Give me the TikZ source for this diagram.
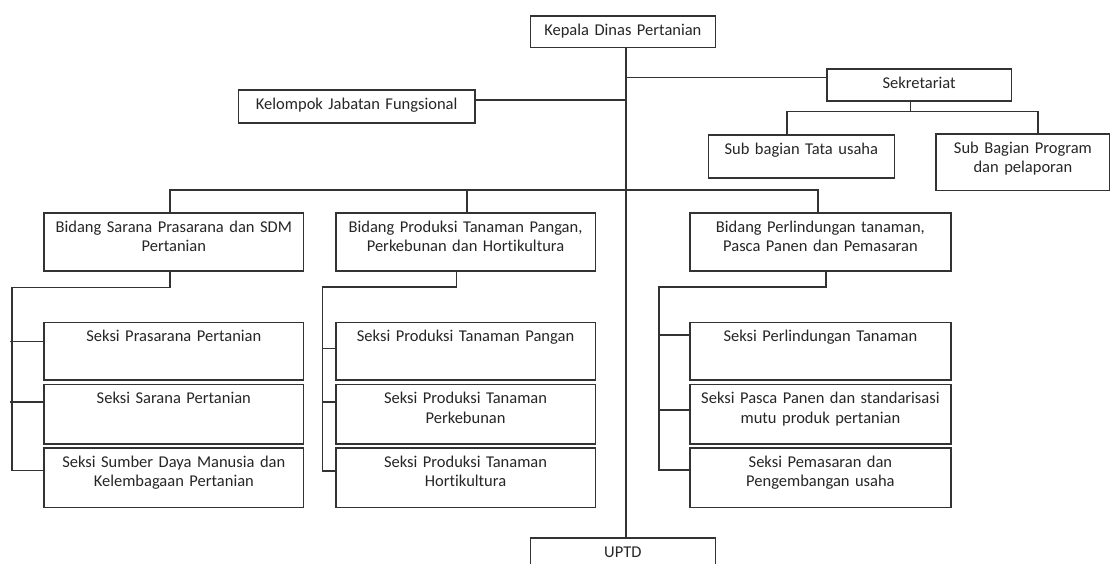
\documentclass[tikz,border=0pt]{standalone}
\usepackage{fontspec}
\setmainfont{Carlito}[Ligatures=NoCommon]
\tikzset{
  x=1pt, y=-1pt,
  box/.style={draw=black!80, line width=1.5pt, rectangle, inner sep=0pt, anchor=north west},
  lbl/.style={anchor=base, yshift=-20pt, align=center, inner sep=0pt,
    font=\fontsize{16.5}{19.5}\selectfont, text=black!85},
  conn/.style={draw=black!80, line width=1.5pt},
}
% name, x, y, width, height, text
\newcommand\orgbox[6]{\node[box, minimum width=#4pt, minimum height=#5pt,
  label={[lbl, text width=#4pt]north:{#6}}] (#1) at (#2,#3) {};}
\begin{document}
\begin{tikzpicture}
\useasboundingbox[fill=white] (0,0) rectangle (1110,563);
% boxes
\orgbox{kep}{529.6}{15}{185}{31.7}{Kepala Dinas Pertanian}
\orgbox{kel}{237.9}{89.3}{236.1}{32.7}{Kelompok Jabatan Fungsional}
\orgbox{sek}{826}{68.3}{184.7}{31.7}{Sekretariat}
\orgbox{sub1}{707.5}{134}{186.1}{43}{Sub bagian Tata usaha}
\orgbox{sub2}{935}{133}{174.3}{56.7}{Sub Bagian Program\\dan pelaporan}
\orgbox{b1}{43.2}{212.3}{259.7}{58}{Bidang Sarana Prasarana dan SDM\\Pertanian}
\orgbox{b2}{335}{212.3}{259.6}{58}{Bidang Produksi Tanaman Pangan,\\Perkebunan dan Hortikultura}
\orgbox{b3}{689.3}{212.3}{260.7}{58}{Bidang Perlindungan tanaman,\\Pasca Panen dan Pemasaran}
\orgbox{sA1}{43.2}{321.7}{259.7}{57.6}{Seksi Prasarana Pertanian}
\orgbox{sA2}{43.2}{383.7}{259.7}{59.3}{Seksi Sarana Pertanian}
\orgbox{sA3}{43.2}{447.3}{259.7}{59.4}{Seksi Sumber Daya Manusia dan\\Kelembagaan Pertanian}
\orgbox{sB1}{335}{321.7}{259.6}{57.6}{Seksi Produksi Tanaman Pangan}
\orgbox{sB2}{335}{383.7}{259.6}{59.3}{Seksi Produksi Tanaman\\Perkebunan}
\orgbox{sB3}{335}{447.3}{259.6}{59.4}{Seksi Produksi Tanaman\\Hortikultura}
\orgbox{sC1}{689.3}{321.7}{260.7}{57.6}{Seksi Perlindungan Tanaman}
\orgbox{sC2}{689.3}{383.7}{260.7}{59.3}{Seksi Pasca Panen dan standarisasi\\mutu produk pertanian}
\orgbox{sC3}{689.3}{447.3}{260.7}{59.4}{Seksi Pemasaran dan\\Pengembangan usaha}
\orgbox{uptd}{529.6}{537.3}{185}{45}{UPTD}
% junction coordinates
\coordinate (tx) at (626,0);
\coordinate (jS) at (626,77.3);
\coordinate (jK) at (626,100);
\coordinate (sx) at (910.4,111.7);
\coordinate (s1) at (786.8,111.7);
\coordinate (s2) at (1037.9,111.7);
\coordinate (d1) at (170,190);
\coordinate (d2) at (466.8,190);
\coordinate (d3) at (818.2,190);
\coordinate (e1) at (170,287.3);
\coordinate (v1) at (11.8,287.3);
\coordinate (a1) at (10,341.7);
\coordinate (a2) at (10,402);
\coordinate (a3) at (11.8,470.3);
\coordinate (e2) at (456.4,287);
\coordinate (v2) at (322.5,287);
\coordinate (m1) at (322.5,348.3);
\coordinate (m2) at (322.5,402);
\coordinate (m3) at (322.5,471);
\coordinate (e3) at (826,287);
\coordinate (v3) at (659,287);
\coordinate (r1) at (659,335);
\coordinate (r2) at (659,410);
\coordinate (r3) at (659,470);
% connectors
\draw[conn] (kep.south -| tx) -- (uptd.north -| tx);
\draw[conn] (jS) -- (jS -| sek.west);
\draw[conn] (jK) -- (jK -| kel.east);
\draw[conn] (sek.south -| sx) -- (sx);
\draw[conn] (sub1.north -| s1) -- (s1) -- (s2) -- (sub2.north -| s2);
\draw[conn] (b1.north -| d1) -- (d1) -- (d3) -- (b3.north -| d3);
\draw[conn] (d2) -- (b2.north -| d2);
\draw[conn] (b1.south -| e1) -- (e1) -- (v1) -- (a3) -- (a3 -| sA3.west);
\draw[conn] (a1) -- (a1 -| sA1.west);
\draw[conn] (a2) -- (a2 -| sA2.west);
\draw[conn] (b2.south -| e2) -- (e2) -- (v2) -- (m3) -- (m3 -| sB3.west);
\draw[conn] (m1) -- (m1 -| sB1.west);
\draw[conn] (m2) -- (m2 -| sB2.west);
\draw[conn] (b3.south -| e3) -- (e3) -- (v3) -- (r3) -- (r3 -| sC3.west);
\draw[conn] (r1) -- (r1 -| sC1.west);
\draw[conn] (r2) -- (r2 -| sC2.west);
\end{tikzpicture}
\end{document}
